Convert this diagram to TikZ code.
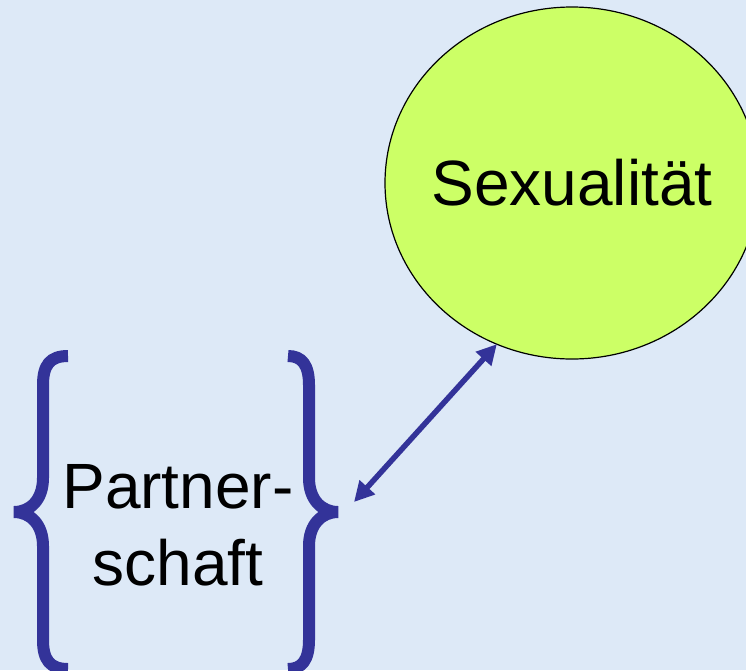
\documentclass[tikz,border=0pt]{standalone}
\usepackage{fontspec}
\setsansfont{Liberation Sans}
\usetikzlibrary{arrows.meta, shapes.geometric}
\definecolor{bgblue}{RGB}{221,233,247}
\definecolor{lime}{RGB}{204,255,102}
\definecolor{navy}{RGB}{51,51,153}
\begin{document}
\begin{tikzpicture}[x=1pt, y=-1pt, font=\sffamily\fontsize{64}{77}\selectfont, every node/.style={inner sep=0pt, outer sep=0pt}, brace/.style={draw=navy, line width=12pt, line cap=butt}, link/.style={draw=navy, line width=5.5pt, {Triangle[length=20pt,width=20pt]}-{Triangle[length=20pt,width=20pt]}}]
        \clip (0,0) rectangle (746,670);
        \fill[bgblue] (0,0) rectangle (746,670);
        \node[draw, ellipse, fill=lime, line width=1.2pt, minimum width=374pt, minimum height=352pt] (sex) at (572, 183) {\makebox[0pt]{Sexualität}};
        \node[align=center] (partner) at (178, 525) {Partner-\\schaft};
        % braces round the text
        \draw[brace] (68,356) .. controls (50,356) and (43,365) .. (43,385) -- (43,478) .. controls (43,500) and (30,512) .. (14,512) .. controls (30,512) and (43,524) .. (43,546) -- (43,640) .. controls (43,660) and (50,669) .. (68,669);
        \draw[brace] (288,356) .. controls (302,356) and (309,365) .. (309,385) -- (309,478) .. controls (309,500) and (322,512) .. (338,512) .. controls (322,512) and (309,524) .. (309,546) -- (309,640) .. controls (309,660) and (302,669) .. (288,669);
        \coordinate (rtip) at (354,502);
        \draw[link] (rtip) -- (sex.245);
    \end{tikzpicture}
\end{document}
